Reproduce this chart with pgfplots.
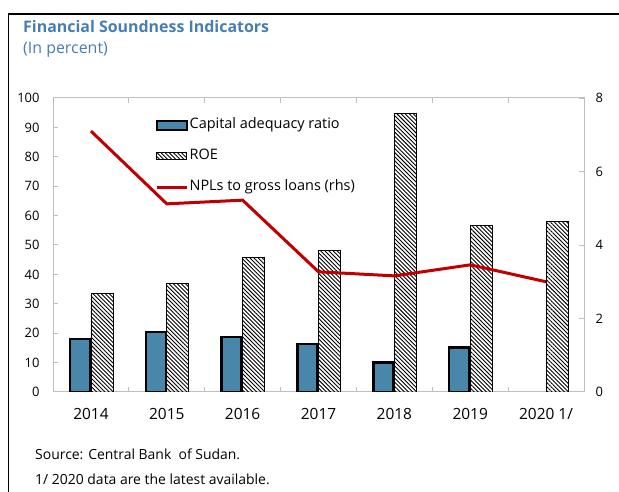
\documentclass[border=0pt]{standalone}
\usepackage{fontspec}
\setmainfont{Open Sans}
\usepackage{pgfplots}
\pgfplotsset{compat=1.18}
\usetikzlibrary{patterns.meta}
\definecolor{carblue}{RGB}{72,135,170}
\definecolor{nplred}{RGB}{192,0,0}
\definecolor{titleblue}{RGB}{70,125,180}
\definecolor{axgray}{RGB}{191,191,191}
\newcommand{\lblfont}{\fontsize{13}{15}\selectfont}
\newcommand{\xlblfont}{\fontsize{15.5}{18}\selectfont}
\newcommand{\legfont}{\fontsize{14.5}{17}\selectfont}
\begin{document}
\begin{tikzpicture}
\useasboundingbox (0bp,0bp) rectangle (619bp,492bp);
\draw[line width=1.2bp] (8.5bp,0bp) -- (8.5bp,478bp) -- (619bp,478bp);
\node[anchor=base west, inner sep=0, text=titleblue, font=\fontsize{16}{18}\selectfont\bfseries] at (23bp,459bp) {Financial Soundness Indicators};
\node[anchor=base west, inner sep=0, text=titleblue, font=\fontsize{16}{18}\selectfont] at (23bp,438bp) {(In percent)};
\node[anchor=base west, inner sep=0, font=\fontsize{14}{16}\selectfont] at (35bp,33bp) {Source: Central Bank\ \ of Sudan.};
\node[anchor=base west, inner sep=0, font=\fontsize{14}{16}\selectfont] at (35bp,8bp) {1/ 2020 data are the latest available.};

\begin{axis}[at={(53bp,100bp)}, anchor=south west, scale only axis,
  width=531bp, height=294bp,
  xmin=-0.5, xmax=6.5, ymin=0, ymax=100,
  ytick={0,10,...,100},
  xtick={0,...,6},
  xticklabels={2014,2015,2016,2017,2018,2019,2020 1/},
  major x tick style={draw=none},
  minor xtick={0.5,1.5,...,5.5},
  minor tick length=5bp, major tick length=5bp,
  tick align=inside, ytick pos=left,
  axis line style={axgray, line width=1bp},
  tick style={axgray, line width=1bp},
  yticklabel style={font=\lblfont, xshift=-10bp},
  xticklabel style={font=\xlblfont, yshift=-13bp},
  /pgf/number format/assume math mode=true,
]
\addplot[ybar, bar width=20bp, bar shift=-11bp, fill=carblue, draw=black, line width=2.4bp]
  coordinates {(0,18.0) (1,20.4) (2,18.8) (3,16.3) (4,10.0) (5,15.2)};
\addplot[ybar, bar width=22bp, bar shift=11bp, draw=black, line width=0.8bp,
  pattern={Lines[angle=-45,distance=2.9bp,line width=0.9bp]}, pattern color=black]
  coordinates {(0,33.6) (1,37.0) (2,45.9) (3,48.0) (4,94.8) (5,56.8) (6,58.0)};
\end{axis}

\begin{axis}[at={(53bp,100bp)}, anchor=south west, scale only axis,
  width=531bp, height=294bp,
  xmin=-0.5, xmax=6.5, ymin=0, ymax=8,
  ytick={0,2,...,8},
  axis x line=none, axis y line*=right,
  major tick length=5bp,
  tick align=inside,
  axis line style={axgray, line width=1bp},
  tick style={axgray, line width=1bp},
  tick label style={font=\lblfont},
  /pgf/number format/assume math mode=true,
  yticklabel style={xshift=8bp},
  legend style={at={(0.192,0.938)}, anchor=north west, draw=none, fill=none,
    inner sep=0pt, row sep=13.5bp, font=\legfont,
    nodes={inner sep=1.5bp, anchor=west, text height=11bp, text depth=3.5bp}},
  legend cell align=left,
]
\addlegendimage{legend image code/.code={\draw[fill=carblue, draw=black, line width=2.2bp] (0bp,-4.5bp) rectangle (30bp,4.5bp);}}
\addlegendentry{Capital adequacy ratio}
\addlegendimage{legend image code/.code={\draw[draw=black, line width=0.6bp, pattern={Lines[angle=-45,distance=2.9bp,line width=0.9bp]}] (0bp,-3.5bp) rectangle (30bp,3.5bp);}}
\addlegendentry{ROE}
\addplot[nplred, line width=3bp, legend image code/.code={\draw[nplred, line width=3bp] (0bp,0bp) -- (30bp,0bp);}]
  coordinates {(0,7.1) (1,5.12) (2,5.22) (3,3.27) (4,3.16) (5,3.46) (6,3.0)};
\addlegendentry{NPLs to gross loans (rhs)}
\end{axis}
\end{tikzpicture}
\end{document}
